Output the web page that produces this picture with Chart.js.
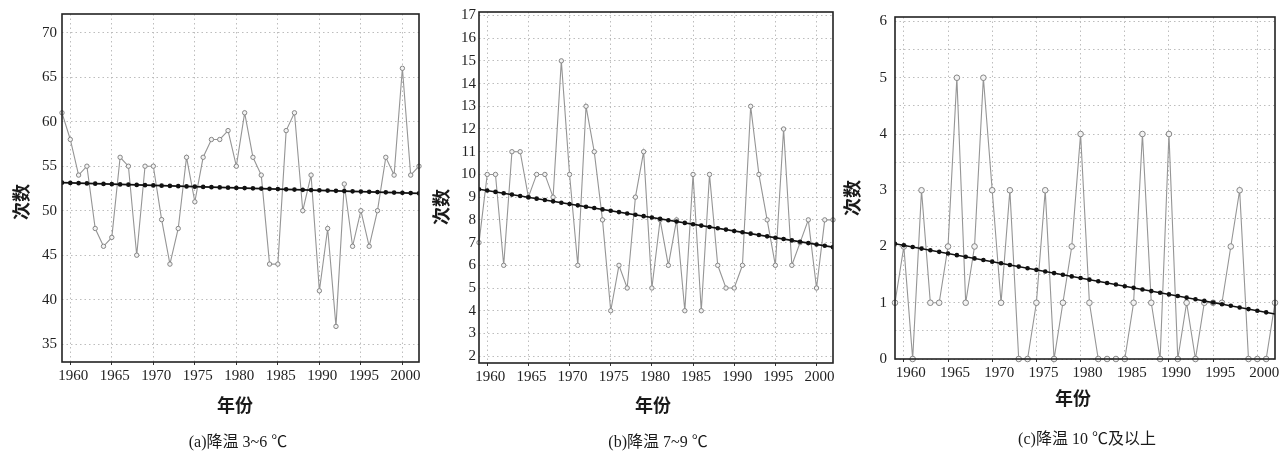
<!DOCTYPE html>
<html>
<head>
<meta charset="utf-8">
<script src="https://cdn.jsdelivr.net/npm/chart.js@4.4.1/dist/chart.umd.min.js"></script>
<style>
  body { margin: 0; background: #fff; }
  #wrap { position: relative; width: 1280px; height: 452px; }
  canvas { position: absolute; top: 0; }
</style>
</head>
<body>
<div id="wrap">
  <canvas id="chartA" width="425" height="452" style="left:0px"></canvas>
  <canvas id="chartB" width="415" height="452" style="left:425px"></canvas>
  <canvas id="chartC" width="440" height="452" style="left:840px"></canvas>
</div>
<script>
var years = [1959, 1960, 1961, 1962, 1963, 1964, 1965, 1966, 1967, 1968, 1969,
             1970, 1971, 1972, 1973, 1974, 1975, 1976, 1977, 1978, 1979,
             1980, 1981, 1982, 1983, 1984, 1985, 1986, 1987, 1988, 1989,
             1990, 1991, 1992, 1993, 1994, 1995, 1996, 1997, 1998, 1999,
             2000, 2001, 2002];

// (a) cooling 3~6 C
var coolA = [61, 58, 54, 55, 48, 46, 47, 56, 55, 45, 55,
             55, 49, 44, 48, 56, 51, 56, 58, 58, 59,
             55, 61, 56, 54, 44, 44, 59, 61, 50, 54,
             41, 48, 37, 53, 46, 50, 46, 50, 56, 54,
             66, 54, 55];
// (b) cooling 7~9 C
var coolB = [7, 10, 10, 6, 11, 11, 9, 10, 10, 9, 15,
             10, 6, 13, 11, 8, 4, 6, 5, 9, 11,
             5, 8, 6, 8, 4, 10, 4, 10, 6, 5,
             5, 6, 13, 10, 8, 6, 12, 6, 7, 8,
             5, 8, 8];
// (c) cooling 10 C and more
var coolC = [1, 2, 0, 3, 1, 1, 2, 5, 1, 2, 5,
             3, 1, 3, 0, 0, 1, 3, 0, 1, 2,
             4, 1, 0, 0, 0, 0, 1, 4, 1, 0,
             4, 0, 1, 0, 1, 1, 1, 2, 3, 0,
             0, 0, 1];

// trend line, value at first and last year
var trendA = [53.15, 51.95];
var trendB = [9.35, 6.8];
var trendC = [2.05, 0.8];

var yearTicks = [1960, 1965, 1970, 1975, 1980, 1985, 1990, 1995, 2000];
var ticksA = [35, 40, 45, 50, 55, 60, 65, 70];
var ticksB = [2, 3, 4, 5, 6, 7, 8, 9, 10, 11, 12, 13, 14, 15, 16, 17];
var ticksC = [0, 0.5, 1, 1.5, 2, 2.5, 3, 3.5, 4, 4.5, 5, 5.5, 6]; // labels on whole numbers only

var tickFont = { family: "'Liberation Serif', 'DejaVu Serif', serif", size: 15 };

// axis titles, caption and the frame round the plot
var panelText = {
  id: 'panelText',
  afterDraw: function (chart, args, o) {
    var c = chart.ctx, a = chart.chartArea;
    c.save();
    c.strokeStyle = '#222';
    c.lineWidth = 1.6;
    c.strokeRect(a.left, a.top, a.right - a.left, a.bottom - a.top);
    c.fillStyle = '#1a1a1a';
    c.textAlign = 'center';
    c.textBaseline = 'middle';
    c.font = "bold 18px 'Noto Sans CJK SC'";
    c.save();
    c.translate(o.yTitle[0], o.yTitle[1]);
    c.rotate(-Math.PI / 2);
    c.fillText('次数', 0, 0);
    c.restore();
    c.fillText('年份', o.xTitle[0], o.xTitle[1]);
    c.font = "16px 'Liberation Serif', 'Noto Sans CJK SC'";
    c.fillText(o.caption, o.cap[0], o.cap[1]);
    c.restore();
  }
};

// spacing of the trend dots = one year along the line
function dotsPerYear(ctx) {
  var ch = ctx.chart, d = ctx.dataset.data;
  var sx = ch.scales.x, sy = ch.scales.y;
  if (!sx || !sy) return [];
  var dx = sx.getPixelForValue(d[1].x) - sx.getPixelForValue(d[0].x);
  var dy = sy.getPixelForValue(d[1].y) - sy.getPixelForValue(d[0].y);
  return [0, Math.sqrt(dx * dx + dy * dy) / (d[1].x - d[0].x)];
}

function drawPanel(id, vals, trend, yTicks, yMin, yMax, p) {
  var series = years.map(function (yr, i) { return { x: yr, y: vals[i] }; });
  var trendPts = [{ x: years[0], y: trend[0] }, { x: years[years.length - 1], y: trend[1] }];

  new Chart(document.getElementById(id), {
    type: 'line',
    data: {
      datasets: [
        { data: trendPts, borderColor: '#111', borderWidth: 4.6, borderCapStyle: 'round',
          borderDash: dotsPerYear, pointRadius: 0 },
        { data: trendPts, borderColor: '#111', borderWidth: 1.6, pointRadius: 0 },
        { data: series, borderColor: '#959595', borderWidth: 1.1, tension: 0, clip: false,
          pointRadius: p.dot, pointBorderWidth: 1, pointBorderColor: '#858585',
          pointBackgroundColor: '#f3f3f3' }
      ]
    },
    options: {
      responsive: false,
      animation: false,
      layout: { padding: { top: p.top, right: p.right, left: 0, bottom: 0 } },
      plugins: {
        legend: { display: false },
        tooltip: { enabled: false },
        panelText: p.text
      },
      scales: {
        x: {
          type: 'linear',
          min: years[0],
          max: years[years.length - 1],
          afterFit: function (s) { s.height = p.bottom; },
          afterBuildTicks: function (s) { s.ticks = yearTicks.map(function (v) { return { value: v }; }); },
          border: { display: false, dash: [1.5, 3] },
          grid: { color: '#bdbdbd', tickColor: '#333', tickLength: 3,
                  tickBorderDash: [], tickWidth: 1 },
          ticks: { font: tickFont, color: '#222', padding: 2, labelOffset: p.labelOffset,
                   maxRotation: 0, autoSkip: false,
                   callback: function (v) { return String(v); } }
        },
        y: {
          min: yMin,
          max: yMax,
          afterFit: function (s) { s.width = p.left; },
          afterBuildTicks: function (s) { s.ticks = yTicks.map(function (v) { return { value: v }; }); },
          border: { display: false, dash: [1.5, 3] },
          grid: { color: '#bdbdbd', drawTicks: false },
          ticks: { font: tickFont, color: '#222', padding: p.yPad, autoSkip: false,
                   callback: function (v) { return v % 1 === 0 ? String(v) : ''; } }
        }
      }
    },
    plugins: [panelText]
  });
}

drawPanel('chartA', coolA, trendA, ticksA, 33, 72.1, {
  left: 62, top: 10, right: 6, bottom: 90, dot: 2.2, yPad: 5, labelOffset: 3,
  text: { yTitle: [21, 202], xTitle: [235, 405], caption: '(a)降温 3~6 ℃', cap: [238, 443] }
});
drawPanel('chartB', coolB, trendB, ticksB, 1.7, 17.15, {
  left: 54, top: 12, right: 7, bottom: 89, dot: 2.2, yPad: 3, labelOffset: 3,
  text: { yTitle: [16, 207], xTitle: [228, 405], caption: '(b)降温 7~9 ℃', cap: [233, 443] }
});
drawPanel('chartC', coolC, trendC, ticksC, 0, 6.08, {
  left: 55, top: 12, right: 5, bottom: 93, dot: 2.8, yPad: 8, labelOffset: 7,
  text: { yTitle: [12, 198], xTitle: [233, 398], caption: '(c)降温 10 ℃及以上', cap: [247, 440] }
});
</script>
</body>
</html>
